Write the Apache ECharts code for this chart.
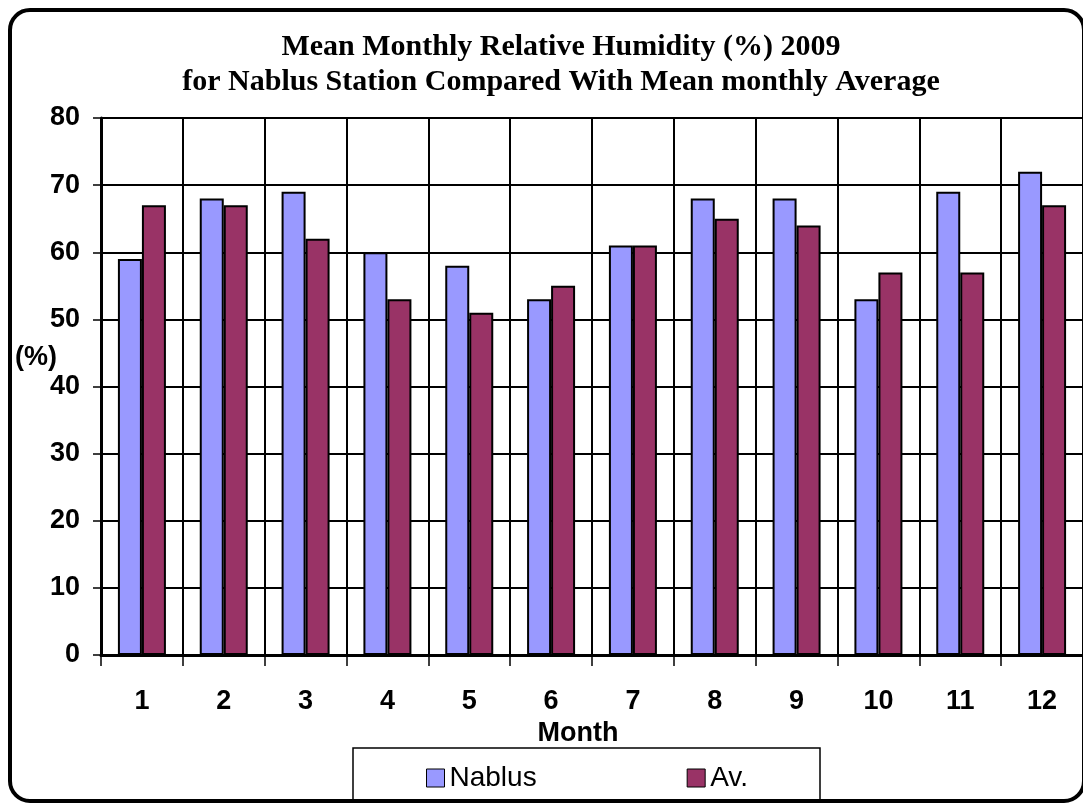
<!DOCTYPE html>
<html>
<head>
<meta charset="utf-8">
<script src="https://cdn.jsdelivr.net/npm/echarts@6/dist/echarts.min.js"></script>
<style>
    html, body { margin: 0; padding: 0; background: #fff; }
    #chart { width: 1083px; height: 804px; }
</style>
</head>
<body>
<div id="chart"></div>
<script>
// data
const months = ['1', '2', '3', '4', '5', '6', '7', '8', '9', '10', '11', '12'];
const nablus = [59, 68, 69, 60, 58, 53, 61, 68, 68, 53, 69, 72];
const average = [67, 67, 62, 53, 51, 55, 61, 65, 64, 57, 57, 67];
const yTicks = [0, 10, 20, 30, 40, 50, 60, 70, 80];

const labelFont = { fontFamily: 'Liberation Sans', fontWeight: 'bold', fontSize: 27, color: '#000' };

var chart = echarts.init(document.getElementById('chart'));

const option = {
    backgroundColor: '#fff',
    animation: false,
    title: {
        text: 'Mean Monthly Relative Humidity (%) 2009\nfor Nablus Station Compared With Mean monthly Average',
        left: 556,
        top: 25,
        textAlign: 'center',
        textStyle: {
            fontFamily: 'Liberation Serif',
            fontWeight: 'bold',
            fontSize: 30,
            lineHeight: 35,
            color: '#000'
        }
    },
    graphic: [
        {
            // outer frame
            type: 'rect',
            shape: { x: 10, y: 10, width: 1074, height: 791, r: 20 },
            style: { fill: 'none', stroke: '#000', lineWidth: 4 },
            z: 100
        },
        {
            // legend box
            type: 'rect',
            shape: { x: 353, y: 748, width: 467, height: 53 },
            style: { fill: '#fff', stroke: '#000', lineWidth: 1.5 },
            z: 1
        }
    ],
    legend: {
        data: ['Nablus', 'Av.'],
        left: 421,
        top: 759,
        itemWidth: 18,
        itemHeight: 18,
        itemGap: 150,
        icon: 'rect',
        itemStyle: { borderColor: '#000', borderWidth: 1 },
        textStyle: { fontFamily: 'Liberation Sans', fontSize: 28, color: '#000' },
        z: 5
    },
    grid: {
        left: 101,
        top: 118,
        width: 986,
        height: 537
    },
    xAxis: {
        type: 'category',
        data: months,
        name: 'Month',
        nameLocation: 'middle',
        nameGap: 65,
        nameMoveOverlap: false,
        nameTextStyle: Object.assign({}, labelFont, { padding: [0, 28, 0, 0] }),
        axisLine: { lineStyle: { color: '#000', width: 3 } },
        axisTick: { show: true, length: 11, lineStyle: { color: '#000', width: 1.5 } },
        axisLabel: Object.assign({ margin: 33, interval: 0 }, labelFont),
        splitLine: { show: true, interval: 0, lineStyle: { color: '#000', width: 2 } }
    },
    yAxis: {
        type: 'value',
        min: yTicks[0],
        max: yTicks[yTicks.length - 1],
        interval: 10,
        name: '(%)',
        nameLocation: 'middle',
        nameRotate: 0,
        nameGap: 44,
        nameMoveOverlap: false,
        nameTextStyle: Object.assign({}, labelFont, { align: 'right', verticalAlign: 'bottom', lineHeight: 58 }),
        axisLine: { show: true, lineStyle: { color: '#000', width: 3 } },
        axisTick: { show: true, length: 8, lineStyle: { color: '#000', width: 1.5 } },
        axisLabel: Object.assign({ margin: 21 }, labelFont),
        splitLine: { show: true, lineStyle: { color: '#000', width: 2 } }
    },
    series: [
        {
            name: 'Nablus',
            type: 'bar',
            data: nablus,
            barWidth: 24,
            barGap: '0%',
            itemStyle: { color: '#9999FF', borderColor: '#000', borderWidth: 2 },
            z: 3
        },
        {
            name: 'Av.',
            type: 'bar',
            data: average,
            barWidth: 24,
            barGap: '0%',
            itemStyle: { color: '#993366', borderColor: '#000', borderWidth: 2 },
            z: 3
        }
    ]
};

chart.setOption(option);
</script>
</body>
</html>
